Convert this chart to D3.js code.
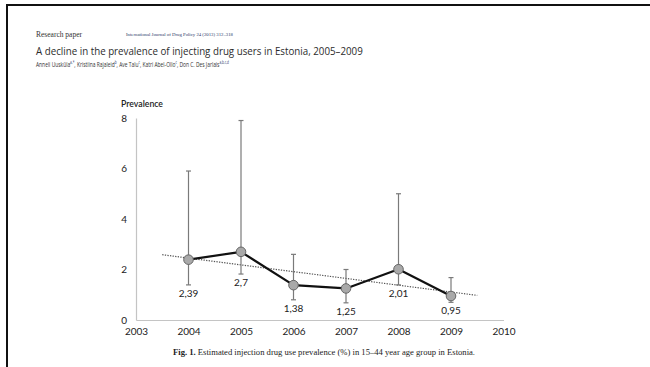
<!DOCTYPE html>
<html>
<head>
<meta charset="utf-8">
<script src="https://cdn.jsdelivr.net/npm/d3@7/dist/d3.min.js"></script>
<style>
  html, body { margin: 0; padding: 0; background: #fff; }
  svg { display: block; }
</style>
</head>
<body>
<svg id="fig" width="650" height="367"></svg>
<script>
// Estimated IDU prevalence (%) by year, with 95% interval bounds
const years = [2004, 2005, 2006, 2007, 2008, 2009];
const prevalence = [2.39, 2.7, 1.38, 1.25, 2.01, 0.95];
const upperBound = [5.9, 7.9, 2.6, 2.0, 5.0, 1.68];
const lowerBound = [1.39, 1.82, 0.8, 0.68, 1.39, 0.7];
const xTicks = [2003, 2004, 2005, 2006, 2007, 2008, 2009, 2010];
const yTicks = [0, 2, 4, 6, 8];
const trendSpan = [2003.5, 2009.5];

const svg = d3.select("#fig");

// page frame (top and left rules of the clipped article page)
svg.append("line").attr("x1", 6).attr("x2", 650).attr("y1", 5).attr("y2", 5)
  .attr("stroke", "#111").attr("stroke-width", 2);
svg.append("line").attr("x1", 7).attr("x2", 7).attr("y1", 4).attr("y2", 367)
  .attr("stroke", "#111").attr("stroke-width", 2);

// squeeze a text horizontally so it spans the given width
function fitWidth(sel, x0, y0, width) {
  const w = sel.node().getComputedTextLength();
  sel.attr("transform", `translate(${x0},${y0}) scale(${width / w},1)`);
}

// article header
svg.append("text").attr("x", 36).attr("y", 37)
  .attr("font-family", "Liberation Serif, serif").attr("font-size", 8)
  .attr("fill", "#333").attr("textLength", 46).attr("lengthAdjust", "spacingAndGlyphs")
  .text("Research paper");
svg.append("text").attr("x", 126).attr("y", 36)
  .attr("font-family", "Liberation Serif, serif").attr("font-size", 4.6)
  .attr("fill", "#2a3a6a").attr("textLength", 107).attr("lengthAdjust", "spacingAndGlyphs")
  .text("International Journal of Drug Policy 24 (2013) 312–318");
const title = svg.append("text")
  .attr("font-family", "Open Sans, sans-serif").attr("font-size", 11.5)
  .attr("fill", "#2b2b2b")
  .text("A decline in the prevalence of injecting drug users in Estonia, 2005–2009");
fitWidth(title, 36, 55, 327);

const authors = svg.append("text")
  .attr("font-family", "Open Sans, sans-serif").attr("font-size", 7.6)
  .attr("fill", "#333");
[["Anneli Uusküla", "a,*"], [", Kristiina Rajaleid", "b"], [", Ave Talu", "c"],
 [", Katri Abel-Ollo", "c"], [", Don C. Des Jarlais", "a,b,c,d"]].forEach(([name, sup]) => {
  authors.append("tspan").text(name);
  authors.append("tspan").attr("font-size", 4.8).attr("baseline-shift", "super")
    .attr("fill", "#2a3a6a").text(sup);
});
fitWidth(authors, 36, 66.5, 193);

// chart scales
const x = d3.scaleLinear().domain([2003, 2010]).range([136, 503.5]);
const y = d3.scaleLinear().domain([0, 8]).range([320, 118]);
const font = "Lato, Liberation Sans, sans-serif";

// axes
const yAxis = svg.append("g").attr("transform", `translate(${x(2003)},0)`)
  .call(d3.axisLeft(y).tickValues(yTicks).tickSize(0).tickPadding(9).tickFormat(d3.format("d")));
const xAxis = svg.append("g").attr("transform", `translate(0,${y(0)})`)
  .call(d3.axisBottom(x).tickValues(xTicks).tickSize(0).tickPadding(8).tickFormat(d3.format("d")));
[yAxis, xAxis].forEach(g => {
  g.select(".domain").attr("stroke", "#c4c4c4").attr("stroke-width", 1.2);
  g.selectAll("text").attr("font-family", font).attr("font-size", 10).attr("fill", "#222");
});

svg.append("text").attr("x", 121).attr("y", 107)
  .attr("font-family", font).attr("font-size", 10).attr("font-weight", 600)
  .attr("fill", "#222").attr("textLength", 42).attr("lengthAdjust", "spacingAndGlyphs")
  .text("Prevalence");

// linear trend fitted to the yearly estimates
const mx = d3.mean(years), my = d3.mean(prevalence);
const slope = d3.sum(years, (v, i) => (v - mx) * (prevalence[i] - my)) /
              d3.sum(years, v => (v - mx) * (v - mx));
const trend = t => my + slope * (t - mx);
svg.append("line")
  .attr("x1", x(trendSpan[0])).attr("y1", y(trend(trendSpan[0])))
  .attr("x2", x(trendSpan[1])).attr("y2", y(trend(trendSpan[1])))
  .attr("stroke", "#555").attr("stroke-width", 1.2).attr("stroke-dasharray", "1.3,1.3");

const data = years.map((yr, i) => ({ yr, v: prevalence[i], lo: lowerBound[i], hi: upperBound[i] }));

// error bars
const eb = svg.append("g").attr("stroke", "#7a7a7a").attr("stroke-width", 1.2);
eb.selectAll(".stem").data(data).join("line")
  .attr("x1", d => x(d.yr)).attr("x2", d => x(d.yr))
  .attr("y1", d => y(d.lo)).attr("y2", d => y(d.hi));
eb.selectAll(".capHi").data(data).join("line")
  .attr("x1", d => x(d.yr) - 2.5).attr("x2", d => x(d.yr) + 2.5)
  .attr("y1", d => y(d.hi)).attr("y2", d => y(d.hi));
eb.selectAll(".capLo").data(data).join("line")
  .attr("x1", d => x(d.yr) - 2.5).attr("x2", d => x(d.yr) + 2.5)
  .attr("y1", d => y(d.lo)).attr("y2", d => y(d.lo));

// estimate line and markers
svg.append("path").datum(data)
  .attr("d", d3.line().x(d => x(d.yr)).y(d => y(d.v)))
  .attr("fill", "none").attr("stroke", "#111").attr("stroke-width", 2.2)
  .attr("stroke-linejoin", "round");
svg.selectAll(".pt").data(data).join("circle")
  .attr("cx", d => x(d.yr)).attr("cy", d => y(d.v)).attr("r", 4.8)
  .attr("fill", "#a9a9a9").attr("stroke", "#666").attr("stroke-width", 1);

// value labels under each interval
svg.selectAll(".lbl").data(data).join("text")
  .attr("x", d => x(d.yr)).attr("y", d => y(d.lo) + 12)
  .attr("text-anchor", "middle").attr("font-family", font).attr("font-size", 10)
  .attr("fill", "#222").text(d => String(d.v).replace(".", ","));

// figure caption
const cap = svg.append("text").attr("x", 173).attr("y", 355)
  .attr("font-family", "Liberation Serif, serif").attr("font-size", 8.6)
  .attr("fill", "#222").attr("textLength", 302).attr("lengthAdjust", "spacingAndGlyphs");
cap.append("tspan").attr("font-weight", "bold").text("Fig. 1.");
cap.append("tspan").text("  Estimated injection drug use prevalence (%) in 15–44 year age group in Estonia.");
</script>
</body>
</html>
